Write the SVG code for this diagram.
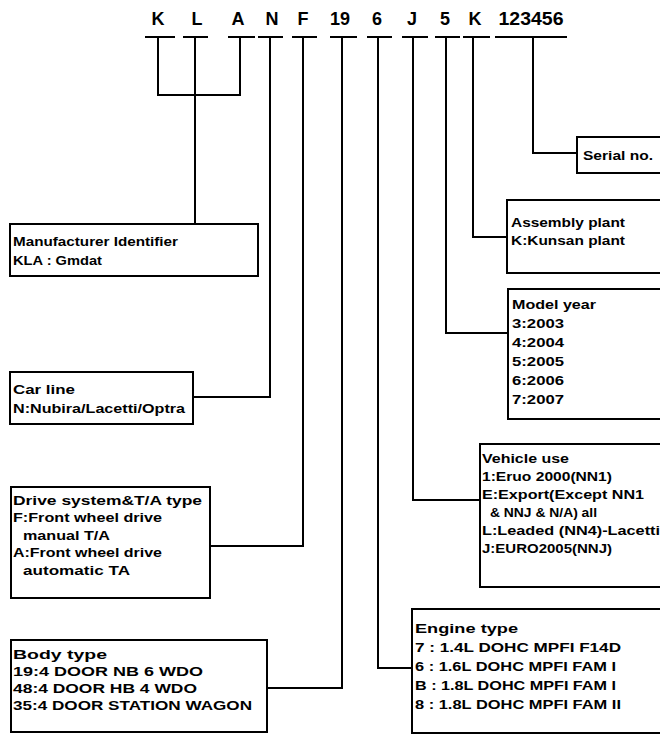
<svg xmlns="http://www.w3.org/2000/svg" width="660" height="736" viewBox="0 0 660 736">
<style>
text{font-family:"Liberation Sans",Arial,sans-serif;font-weight:bold;fill:#000}
.top{font-size:18px;text-anchor:middle}
.t{font-size:13.5px}
.box{fill:#fff;stroke:#000;stroke-width:2}
.ln{fill:none;stroke:#000;stroke-width:2}
</style>
<rect width="660" height="736" fill="#fff"/>
<g id="code">
<text class="top" x="158" y="25">K</text>
<text class="top" x="197" y="25">L</text>
<text class="top" x="238" y="25">A</text>
<text class="top" x="272" y="25">N</text>
<text class="top" x="303" y="25">F</text>
<text class="top" x="340" y="25">19</text>
<text class="top" x="377" y="25">6</text>
<text class="top" x="412" y="25">J</text>
<text class="top" x="445" y="25">5</text>
<text class="top" x="475" y="25">K</text>
<text class="top" x="531" y="25" textLength="65" lengthAdjust="spacingAndGlyphs">123456</text>
</g>
<g id="connectors" class="ln">
<path d="M145 37H175M183 37H208M228 37H255M258 37H283M292 37H317M330 37H357M367 37H392M402 37H428M435 37H460M463 37H490M495 37H567"/>
<path d="M158 37V95H240V37"/>
<path d="M195 37V224"/>
<path d="M270 37V397H193"/>
<path d="M303 37V546H210"/>
<path d="M342 37V688H267"/>
<path d="M378 37V668H412"/>
<path d="M413 37V500H480"/>
<path d="M446 37V333H508"/>
<path d="M473 37V237H507"/>
<path d="M533 37V153H577"/>
</g>
<g id="n-manufacturer">
<rect class="box" x="10" y="224" width="248" height="52"/>
<text class="t" x="13" y="246" textLength="165" lengthAdjust="spacingAndGlyphs">Manufacturer Identifier</text>
<text class="t" x="13" y="265" textLength="89" lengthAdjust="spacingAndGlyphs">KLA : Gmdat</text>
</g>
<g id="n-carline">
<rect class="box" x="10" y="372" width="183" height="52"/>
<text class="t" x="13" y="394" textLength="62" lengthAdjust="spacingAndGlyphs">Car line</text>
<text class="t" x="13" y="413" textLength="172" lengthAdjust="spacingAndGlyphs">N:Nubira/Lacetti/Optra</text>
</g>
<g id="n-drive">
<rect class="box" x="11" y="487" width="199" height="111"/>
<text class="t" x="13" y="505" textLength="189" lengthAdjust="spacingAndGlyphs">Drive system&amp;T/A type</text>
<text class="t" x="13" y="522" textLength="149" lengthAdjust="spacingAndGlyphs">F:Front wheel drive</text>
<text class="t" x="23" y="540" textLength="87" lengthAdjust="spacingAndGlyphs">manual T/A</text>
<text class="t" x="13" y="557" textLength="149" lengthAdjust="spacingAndGlyphs">A:Front wheel drive</text>
<text class="t" x="23" y="575" textLength="107" lengthAdjust="spacingAndGlyphs">automatic TA</text>
</g>
<g id="n-body">
<rect class="box" x="11" y="640" width="256" height="92"/>
<text class="t" x="13" y="659" textLength="94" lengthAdjust="spacingAndGlyphs">Body type</text>
<text class="t" x="13" y="676" textLength="190" lengthAdjust="spacingAndGlyphs">19:4 DOOR NB 6 WDO</text>
<text class="t" x="13" y="693" textLength="184" lengthAdjust="spacingAndGlyphs">48:4 DOOR HB 4 WDO</text>
<text class="t" x="13" y="710" textLength="239" lengthAdjust="spacingAndGlyphs">35:4 DOOR STATION WAGON</text>
</g>
<g id="n-serial">
<rect class="box" x="577" y="137" width="100" height="36"/>
<text class="t" x="583" y="160" textLength="70" lengthAdjust="spacingAndGlyphs">Serial no.</text>
</g>
<g id="n-assembly">
<rect class="box" x="507" y="200" width="170" height="73"/>
<text class="t" x="511" y="227" textLength="114" lengthAdjust="spacingAndGlyphs">Assembly plant</text>
<text class="t" x="511" y="245" textLength="114" lengthAdjust="spacingAndGlyphs">K:Kunsan plant</text>
</g>
<g id="n-modelyear">
<rect class="box" x="508" y="289" width="170" height="130"/>
<text class="t" x="512" y="309" textLength="84" lengthAdjust="spacingAndGlyphs">Model year</text>
<text class="t" x="512" y="328" textLength="52" lengthAdjust="spacingAndGlyphs">3:2003</text>
<text class="t" x="512" y="347" textLength="52" lengthAdjust="spacingAndGlyphs">4:2004</text>
<text class="t" x="512" y="366" textLength="52" lengthAdjust="spacingAndGlyphs">5:2005</text>
<text class="t" x="512" y="385" textLength="52" lengthAdjust="spacingAndGlyphs">6:2006</text>
<text class="t" x="512" y="404" textLength="52" lengthAdjust="spacingAndGlyphs">7:2007</text>
</g>
<g id="n-vehicle">
<rect class="box" x="480" y="444" width="200" height="143"/>
<text class="t" x="482" y="463" textLength="87" lengthAdjust="spacingAndGlyphs">Vehicle use</text>
<text class="t" x="482" y="481" textLength="130" lengthAdjust="spacingAndGlyphs">1:Eruo 2000(NN1)</text>
<text class="t" x="482" y="499" textLength="162" lengthAdjust="spacingAndGlyphs">E:Export(Except NN1</text>
<text class="t" x="490" y="517" textLength="107" lengthAdjust="spacingAndGlyphs">&amp; NNJ &amp; N/A) all</text>
<text class="t" x="482" y="535" textLength="178" lengthAdjust="spacingAndGlyphs">L:Leaded (NN4)-Lacetti</text>
<text class="t" x="482" y="553" textLength="130" lengthAdjust="spacingAndGlyphs">J:EURO2005(NNJ)</text>
</g>
<g id="n-engine">
<rect class="box" x="412" y="609" width="260" height="124"/>
<text class="t" x="415" y="633" textLength="103" lengthAdjust="spacingAndGlyphs">Engine type</text>
<text class="t" x="415" y="652" textLength="206" lengthAdjust="spacingAndGlyphs">7 : 1.4L DOHC MPFI F14D</text>
<text class="t" x="415" y="671" textLength="201" lengthAdjust="spacingAndGlyphs">6 : 1.6L DOHC MPFI FAM I</text>
<text class="t" x="415" y="690" textLength="201" lengthAdjust="spacingAndGlyphs">B : 1.8L DOHC MPFI FAM I</text>
<text class="t" x="415" y="709" textLength="206" lengthAdjust="spacingAndGlyphs">8 : 1.8L DOHC MPFI FAM II</text>
</g>
</svg>
